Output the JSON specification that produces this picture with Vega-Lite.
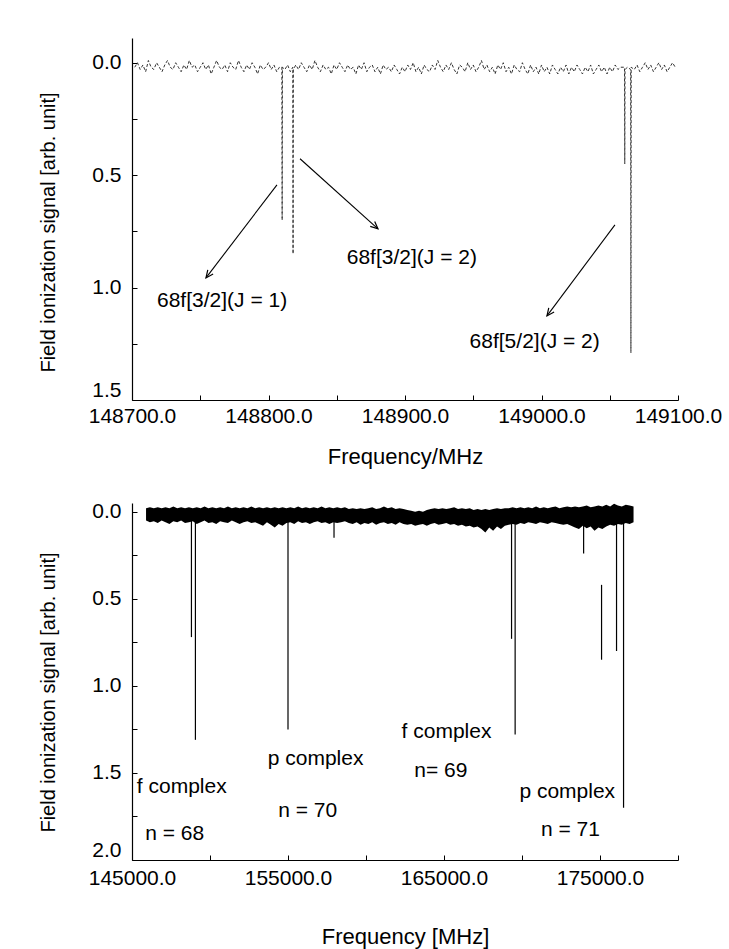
{
  "$schema": "https://vega.github.io/schema/vega-lite/v6.json",
  "background": "white",
  "padding": {"left": 38, "top": 38, "right": 5, "bottom": 5},
  "bounds": "flush",
  "spacing": 103,
  "config": {
    "view": {"stroke": null},
    "font": "Liberation Sans",
    "text": {"font": "Liberation Sans", "fontSize": 21, "color": "black"},
    "axis": {
      "grid": false,
      "domainColor": "black", "domainWidth": 1.2,
      "tickColor": "black", "tickSize": -5, "tickWidth": 1,
      "labelColor": "black", "titleColor": "black",
      "labelFont": "Liberation Sans", "titleFont": "Liberation Sans",
      "labelFontSize": 21, "titleFontSize": 22, "titleFontWeight": "normal",
      "labelOverlap": false, "labelFlush": false
    },
    "axisY": {"labelFlush": true, "titleFontSize": 20}
  },
  "datasets": {
    "top_spectrum": [
      {"f":148702,"s":0.02},{"f":148704,"s":0.00},{"f":148706,"s":0.03},{"f":148708,"s":0.01},{"f":148710,"s":0.04},
      {"f":148712,"s":-0.01},{"f":148714,"s":0.02},{"f":148716,"s":0.03},{"f":148718,"s":0.00},{"f":148720,"s":0.02},
      {"f":148722,"s":0.04},{"f":148724,"s":0.01},{"f":148726,"s":-0.01},{"f":148728,"s":0.02},{"f":148730,"s":0.03},
      {"f":148732,"s":0.00},{"f":148734,"s":0.02},{"f":148736,"s":0.04},{"f":148738,"s":0.01},{"f":148740,"s":0.03},
      {"f":148742,"s":-0.01},{"f":148744,"s":0.02},{"f":148746,"s":0.01},{"f":148748,"s":0.04},{"f":148750,"s":0.02},
      {"f":148752,"s":0.00},{"f":148754,"s":0.03},{"f":148756,"s":0.01},{"f":148758,"s":0.05},{"f":148760,"s":0.02},
      {"f":148762,"s":-0.01},{"f":148764,"s":0.02},{"f":148766,"s":0.03},{"f":148768,"s":0.01},{"f":148770,"s":0.04},
      {"f":148772,"s":0.00},{"f":148774,"s":0.02},{"f":148776,"s":0.03},{"f":148778,"s":-0.01},{"f":148780,"s":0.02},
      {"f":148782,"s":0.04},{"f":148784,"s":0.01},{"f":148786,"s":0.03},{"f":148788,"s":0.00},{"f":148790,"s":0.02},
      {"f":148792,"s":0.05},{"f":148794,"s":0.01},{"f":148796,"s":0.03},{"f":148798,"s":0.02},{"f":148800,"s":0.00},
      {"f":148802,"s":0.03},{"f":148804,"s":0.01},{"f":148806,"s":0.04},{"f":148808,"s":0.02},
      {"f":148809.8,"s":0.02},{"f":148810,"s":0.70},{"f":148810.2,"s":0.02},
      {"f":148812,"s":0.03},{"f":148814,"s":0.01},{"f":148816,"s":0.04},
      {"f":148817.8,"s":0.02},{"f":148818,"s":0.85},{"f":148818.2,"s":0.03},
      {"f":148820,"s":0.01},{"f":148822,"s":0.03},{"f":148824,"s":0.00},{"f":148826,"s":0.02},{"f":148828,"s":0.04},
      {"f":148830,"s":0.01},{"f":148832,"s":0.03},{"f":148834,"s":-0.01},{"f":148836,"s":0.02},{"f":148838,"s":0.04},
      {"f":148840,"s":0.01},{"f":148842,"s":0.03},{"f":148844,"s":0.02},{"f":148846,"s":0.05},{"f":148848,"s":0.01},
      {"f":148850,"s":0.03},{"f":148852,"s":0.00},{"f":148854,"s":0.02},{"f":148856,"s":0.04},{"f":148858,"s":0.01},
      {"f":148860,"s":0.03},{"f":148862,"s":0.02},{"f":148864,"s":0.05},{"f":148866,"s":0.01},{"f":148868,"s":0.03},
      {"f":148870,"s":0.00},{"f":148872,"s":0.04},{"f":148874,"s":0.02},{"f":148876,"s":0.01},{"f":148878,"s":0.04},
      {"f":148880,"s":0.02},{"f":148882,"s":0.05},{"f":148884,"s":0.01},{"f":148886,"s":0.03},{"f":148888,"s":0.02},
      {"f":148890,"s":0.04},{"f":148892,"s":0.01},{"f":148894,"s":0.03},{"f":148896,"s":0.05},{"f":148898,"s":0.02},
      {"f":148900,"s":0.04},{"f":148902,"s":0.01},{"f":148904,"s":0.03},{"f":148906,"s":0.00},{"f":148908,"s":0.04},
      {"f":148910,"s":0.02},{"f":148912,"s":0.05},{"f":148914,"s":0.01},{"f":148916,"s":0.03},{"f":148918,"s":0.04},
      {"f":148920,"s":0.01},{"f":148922,"s":0.03},{"f":148924,"s":-0.01},{"f":148926,"s":0.02},{"f":148928,"s":0.04},
      {"f":148930,"s":0.01},{"f":148932,"s":0.03},{"f":148934,"s":0.00},{"f":148936,"s":0.03},{"f":148938,"s":0.05},
      {"f":148940,"s":0.01},{"f":148942,"s":0.02},{"f":148944,"s":0.04},{"f":148946,"s":0.00},{"f":148948,"s":0.03},
      {"f":148950,"s":0.01},{"f":148952,"s":0.04},{"f":148954,"s":0.02},{"f":148956,"s":-0.01},{"f":148958,"s":0.03},
      {"f":148960,"s":0.01},{"f":148962,"s":0.04},{"f":148964,"s":0.02},{"f":148966,"s":0.05},{"f":148968,"s":0.01},
      {"f":148970,"s":0.03},{"f":148972,"s":0.00},{"f":148974,"s":0.04},{"f":148976,"s":0.02},{"f":148978,"s":0.05},
      {"f":148980,"s":0.01},{"f":148982,"s":0.03},{"f":148984,"s":0.04},{"f":148986,"s":0.00},{"f":148988,"s":0.03},
      {"f":148990,"s":0.05},{"f":148992,"s":0.01},{"f":148994,"s":0.04},{"f":148996,"s":0.02},{"f":148998,"s":0.05},
      {"f":149000,"s":0.01},{"f":149002,"s":0.04},{"f":149004,"s":0.02},{"f":149006,"s":0.05},{"f":149008,"s":0.01},
      {"f":149010,"s":0.03},{"f":149012,"s":0.05},{"f":149014,"s":0.02},{"f":149016,"s":0.04},{"f":149018,"s":0.01},
      {"f":149020,"s":0.05},{"f":149022,"s":0.02},{"f":149024,"s":0.04},{"f":149026,"s":0.01},{"f":149028,"s":0.03},
      {"f":149030,"s":0.05},{"f":149032,"s":0.02},{"f":149034,"s":0.04},{"f":149036,"s":0.01},{"f":149038,"s":0.05},
      {"f":149040,"s":0.03},{"f":149042,"s":0.01},{"f":149044,"s":0.04},{"f":149046,"s":0.02},{"f":149048,"s":0.05},
      {"f":149050,"s":0.02},{"f":149052,"s":0.04},{"f":149054,"s":0.01},{"f":149056,"s":0.03},{"f":149058,"s":0.02},
      {"f":149060.8,"s":0.02},{"f":149061,"s":0.45},{"f":149061.2,"s":0.03},
      {"f":149063,"s":0.02},
      {"f":149065.3,"s":0.03},{"f":149065.5,"s":1.29},{"f":149065.7,"s":0.02},
      {"f":149068,"s":0.03},{"f":149070,"s":0.01},{"f":149072,"s":0.04},{"f":149074,"s":0.02},{"f":149076,"s":0.00},
      {"f":149078,"s":0.03},{"f":149080,"s":0.01},{"f":149082,"s":0.04},{"f":149084,"s":0.02},{"f":149086,"s":0.00},
      {"f":149088,"s":0.03},{"f":149090,"s":0.01},{"f":149092,"s":0.04},{"f":149094,"s":0.02},{"f":149096,"s":0.00},
      {"f":149098,"s":0.02}
    ],
    "top_arrows": [
      {"id":1,"f1":148806.2,"s1":0.543,"f2":148754.2,"s2":0.957},
      {"id":2,"f1":148823.1,"s1":0.427,"f2":148880.2,"s2":0.739},
      {"id":3,"f1":149053.8,"s1":0.721,"f2":149004.0,"s2":1.126}
    ],
    "top_labels": [
      {"f":148766,"s":1.06,"label":"68f[3/2](J = 1)"},
      {"f":148905,"s":0.87,"label":"68f[3/2](J = 2)"},
      {"f":148995,"s":1.24,"label":"68f[5/2](J = 2)"}
    ],
    "bottom_band": [
      {"f":145900,"lo":-0.02,"hi":0.05},{"f":146150,"lo":-0.025,"hi":0.06},{"f":146400,"lo":-0.02,"hi":0.055},{"f":146650,"lo":-0.025,"hi":0.065},
      {"f":146900,"lo":-0.02,"hi":0.05},{"f":147150,"lo":-0.025,"hi":0.06},{"f":147400,"lo":-0.02,"hi":0.07},{"f":147650,"lo":-0.03,"hi":0.055},
      {"f":147900,"lo":-0.02,"hi":0.06},{"f":148150,"lo":-0.025,"hi":0.05},{"f":148400,"lo":-0.02,"hi":0.065},{"f":148650,"lo":-0.025,"hi":0.06},
      {"f":148900,"lo":-0.02,"hi":0.055},{"f":149150,"lo":-0.025,"hi":0.07},{"f":149400,"lo":-0.02,"hi":0.06},{"f":149650,"lo":-0.03,"hi":0.05},
      {"f":149900,"lo":-0.02,"hi":0.065},{"f":150150,"lo":-0.025,"hi":0.06},{"f":150400,"lo":-0.02,"hi":0.07},{"f":150650,"lo":-0.025,"hi":0.055},
      {"f":150900,"lo":-0.02,"hi":0.06},{"f":151150,"lo":-0.03,"hi":0.065},{"f":151400,"lo":-0.02,"hi":0.05},{"f":151650,"lo":-0.025,"hi":0.06},
      {"f":151900,"lo":-0.02,"hi":0.07},{"f":152150,"lo":-0.025,"hi":0.06},{"f":152400,"lo":-0.02,"hi":0.055},{"f":152650,"lo":-0.03,"hi":0.065},
      {"f":152900,"lo":-0.02,"hi":0.06},{"f":153150,"lo":-0.025,"hi":0.07},{"f":153400,"lo":-0.02,"hi":0.08},{"f":153650,"lo":-0.025,"hi":0.06},
      {"f":153900,"lo":-0.02,"hi":0.075},{"f":154150,"lo":-0.025,"hi":0.09},{"f":154400,"lo":-0.02,"hi":0.07},{"f":154650,"lo":-0.025,"hi":0.08},
      {"f":154900,"lo":-0.02,"hi":0.065},{"f":155150,"lo":-0.025,"hi":0.06},{"f":155400,"lo":-0.02,"hi":0.07},{"f":155650,"lo":-0.03,"hi":0.055},
      {"f":155900,"lo":-0.02,"hi":0.065},{"f":156150,"lo":-0.025,"hi":0.06},{"f":156400,"lo":-0.02,"hi":0.07},{"f":156650,"lo":-0.025,"hi":0.06},
      {"f":156900,"lo":-0.02,"hi":0.055},{"f":157150,"lo":-0.03,"hi":0.065},{"f":157400,"lo":-0.02,"hi":0.06},{"f":157650,"lo":-0.025,"hi":0.07},
      {"f":157900,"lo":-0.02,"hi":0.06},{"f":158150,"lo":-0.025,"hi":0.065},{"f":158400,"lo":-0.02,"hi":0.06},{"f":158650,"lo":-0.025,"hi":0.055},
      {"f":158900,"lo":-0.015,"hi":0.065},{"f":159150,"lo":-0.02,"hi":0.07},{"f":159400,"lo":-0.015,"hi":0.06},{"f":159650,"lo":-0.02,"hi":0.075},
      {"f":159900,"lo":-0.015,"hi":0.065},{"f":160150,"lo":-0.02,"hi":0.07},{"f":160400,"lo":-0.025,"hi":0.06},{"f":160650,"lo":-0.015,"hi":0.075},
      {"f":160900,"lo":-0.02,"hi":0.065},{"f":161150,"lo":-0.03,"hi":0.06},{"f":161400,"lo":-0.02,"hi":0.07},{"f":161650,"lo":-0.025,"hi":0.065},
      {"f":161900,"lo":-0.015,"hi":0.075},{"f":162150,"lo":-0.02,"hi":0.06},{"f":162400,"lo":-0.015,"hi":0.07},{"f":162650,"lo":-0.01,"hi":0.075},
      {"f":162900,"lo":-0.005,"hi":0.07},{"f":163150,"lo":0.0,"hi":0.08},{"f":163400,"lo":-0.005,"hi":0.075},{"f":163650,"lo":0.0,"hi":0.07},
      {"f":163900,"lo":-0.01,"hi":0.08},{"f":164150,"lo":-0.015,"hi":0.07},{"f":164400,"lo":-0.02,"hi":0.065},{"f":164650,"lo":-0.015,"hi":0.075},
      {"f":164900,"lo":-0.02,"hi":0.07},{"f":165150,"lo":-0.015,"hi":0.065},{"f":165400,"lo":-0.02,"hi":0.075},{"f":165650,"lo":-0.025,"hi":0.07},
      {"f":165900,"lo":-0.015,"hi":0.08},{"f":166150,"lo":-0.02,"hi":0.075},{"f":166400,"lo":-0.015,"hi":0.085},{"f":166650,"lo":-0.02,"hi":0.08},
      {"f":166900,"lo":-0.01,"hi":0.09},{"f":167150,"lo":-0.015,"hi":0.085},{"f":167400,"lo":-0.01,"hi":0.1},{"f":167650,"lo":-0.015,"hi":0.12},
      {"f":167900,"lo":-0.01,"hi":0.09},{"f":168150,"lo":-0.015,"hi":0.11},{"f":168400,"lo":-0.02,"hi":0.085},{"f":168650,"lo":-0.015,"hi":0.1},
      {"f":168900,"lo":-0.02,"hi":0.08},{"f":169150,"lo":-0.02,"hi":0.075},{"f":169400,"lo":-0.025,"hi":0.07},{"f":169650,"lo":-0.02,"hi":0.075},
      {"f":169900,"lo":-0.025,"hi":0.065},{"f":170150,"lo":-0.02,"hi":0.07},{"f":170400,"lo":-0.025,"hi":0.06},{"f":170650,"lo":-0.02,"hi":0.065},
      {"f":170900,"lo":-0.03,"hi":0.07},{"f":171150,"lo":-0.02,"hi":0.06},{"f":171400,"lo":-0.025,"hi":0.065},{"f":171650,"lo":-0.02,"hi":0.07},
      {"f":171900,"lo":-0.025,"hi":0.06},{"f":172150,"lo":-0.03,"hi":0.065},{"f":172400,"lo":-0.02,"hi":0.07},{"f":172650,"lo":-0.025,"hi":0.075},
      {"f":172900,"lo":-0.03,"hi":0.07},{"f":173150,"lo":-0.025,"hi":0.08},{"f":173400,"lo":-0.03,"hi":0.09},{"f":173650,"lo":-0.025,"hi":0.1},
      {"f":173900,"lo":-0.03,"hi":0.08},{"f":174150,"lo":-0.035,"hi":0.095},{"f":174400,"lo":-0.025,"hi":0.085},{"f":174650,"lo":-0.03,"hi":0.11},
      {"f":174900,"lo":-0.035,"hi":0.09},{"f":175150,"lo":-0.03,"hi":0.1},{"f":175400,"lo":-0.04,"hi":0.085},{"f":175650,"lo":-0.03,"hi":0.075},
      {"f":175900,"lo":-0.045,"hi":0.08},{"f":176150,"lo":-0.035,"hi":0.07},{"f":176400,"lo":-0.03,"hi":0.075},{"f":176650,"lo":-0.04,"hi":0.065},
      {"f":176900,"lo":-0.035,"hi":0.07},{"f":177150,"lo":-0.03,"hi":0.06}
    ],
    "bottom_peaks": [
      {"f":148810,"top":0.03,"depth":0.72},
      {"f":149065,"top":0.03,"depth":1.31},
      {"f":155000,"top":0.03,"depth":1.25},
      {"f":157950,"top":0.03,"depth":0.15},
      {"f":169330,"top":0.03,"depth":0.73},
      {"f":169560,"top":0.03,"depth":1.28},
      {"f":173950,"top":0.03,"depth":0.24},
      {"f":175100,"top":0.42,"depth":0.85},
      {"f":176060,"top":0.03,"depth":0.80},
      {"f":176510,"top":0.03,"depth":1.70}
    ],
    "bottom_labels": [
      {"f":148190,"s":1.58,"label":"f complex"},
      {"f":147740,"s":1.85,"label":"n = 68"},
      {"f":156770,"s":1.42,"label":"p complex"},
      {"f":156260,"s":1.72,"label":"n = 70"},
      {"f":165160,"s":1.265,"label":"f complex"},
      {"f":164800,"s":1.49,"label":"n= 69"},
      {"f":172900,"s":1.61,"label":"p complex"},
      {"f":173100,"s":1.83,"label":"n = 71"}
    ]
  },
  "vconcat": [
    {
      "width": 546,
      "height": 362,
      "layer": [
        {
          "data": {"name": "top_spectrum"},
          "mark": {"type": "line", "color": "#333", "strokeWidth": 1, "strokeDash": [3, 2]},
          "encoding": {
            "x": {
              "field": "f", "type": "quantitative",
              "scale": {"domain": [148700, 149100], "nice": false, "zero": false},
              "axis": {
                "title": "Frequency/MHz",
                "values": [148700, 148750, 148800, 148850, 148900, 148950, 149000, 149050, 149100],
                "labelExpr": "datum.value % 100 == 0 ? format(datum.value, '.1f') : ''",
                "labelPadding": 10, "titlePadding": 20
              }
            },
            "y": {
              "field": "s", "type": "quantitative",
              "scale": {"domain": [-0.11, 1.5], "reverse": true, "nice": false, "zero": false},
              "axis": {
                "title": "Field ionization signal [arb. unit]",
                "values": [0, 0.25, 0.5, 0.75, 1, 1.25, 1.5],
                "labelExpr": "datum.value % 0.5 == 0 ? format(datum.value, '.1f') : ''",
                "labelPadding": 16, "titlePadding": 33, "titleY": 194
              }
            }
          }
        },
        {
          "data": {"name": "top_arrows"},
          "mark": {"type": "rule", "color": "black", "strokeWidth": 1.1},
          "encoding": {
            "x": {"field": "f1", "type": "quantitative"},
            "y": {"field": "s1", "type": "quantitative"},
            "x2": {"field": "f2"},
            "y2": {"field": "s2"}
          }
        },
        {
          "data": {"name": "top_arrows"},
          "transform": [{"filter": "datum.id == 1"}],
          "mark": {"type": "point", "shape": "M-0.45,1L0,0L0.45,1", "filled": false, "size": 220, "strokeWidth": 1.2, "color": "black", "opacity": 1, "angle": 217},
          "encoding": {
            "x": {"field": "f2", "type": "quantitative"},
            "y": {"field": "s2", "type": "quantitative"}
          }
        },
        {
          "data": {"name": "top_arrows"},
          "transform": [{"filter": "datum.id == 2"}],
          "mark": {"type": "point", "shape": "M-0.45,1L0,0L0.45,1", "filled": false, "size": 220, "strokeWidth": 1.2, "color": "black", "opacity": 1, "angle": 132},
          "encoding": {
            "x": {"field": "f2", "type": "quantitative"},
            "y": {"field": "s2", "type": "quantitative"}
          }
        },
        {
          "data": {"name": "top_arrows"},
          "transform": [{"filter": "datum.id == 3"}],
          "mark": {"type": "point", "shape": "M-0.45,1L0,0L0.45,1", "filled": false, "size": 220, "strokeWidth": 1.2, "color": "black", "opacity": 1, "angle": 217},
          "encoding": {
            "x": {"field": "f2", "type": "quantitative"},
            "y": {"field": "s2", "type": "quantitative"}
          }
        },
        {
          "data": {"name": "top_labels"},
          "mark": {"type": "text", "fontSize": 21, "align": "center", "baseline": "middle"},
          "encoding": {
            "x": {"field": "f", "type": "quantitative"},
            "y": {"field": "s", "type": "quantitative"},
            "text": {"field": "label"}
          }
        }
      ]
    },
    {
      "width": 546,
      "height": 357,
      "layer": [
        {
          "data": {"name": "bottom_band"},
          "mark": {"type": "area", "color": "black", "opacity": 1},
          "encoding": {
            "x": {
              "field": "f", "type": "quantitative",
              "scale": {"domain": [145000, 180000], "nice": false, "zero": false},
              "axis": {
                "title": "Frequency [MHz]",
                "values": [145000, 150000, 155000, 160000, 165000, 170000, 175000, 180000],
                "labelExpr": "(datum.value - 145000) % 10000 == 0 ? format(datum.value, '.1f') : ''",
                "labelPadding": 12, "titlePadding": 38
              }
            },
            "y": {
              "field": "lo", "type": "quantitative",
              "scale": {"domain": [-0.05, 2.0], "reverse": true, "nice": false, "zero": false},
              "axis": {
                "title": "Field ionization signal [arb. unit]",
                "values": [0, 0.25, 0.5, 0.75, 1, 1.25, 1.5, 1.75, 2],
                "labelExpr": "datum.value % 0.5 == 0 ? format(datum.value, '.1f') : ''",
                "labelPadding": 16, "titlePadding": 33, "titleY": 189
              }
            },
            "y2": {"field": "hi"}
          }
        },
        {
          "data": {"name": "bottom_peaks"},
          "mark": {"type": "rule", "color": "black", "strokeWidth": 1.2},
          "encoding": {
            "x": {"field": "f", "type": "quantitative"},
            "y": {"field": "top", "type": "quantitative"},
            "y2": {"field": "depth"}
          }
        },
        {
          "data": {"name": "bottom_labels"},
          "mark": {"type": "text", "fontSize": 21, "align": "center", "baseline": "middle"},
          "encoding": {
            "x": {"field": "f", "type": "quantitative"},
            "y": {"field": "s", "type": "quantitative"},
            "text": {"field": "label"}
          }
        }
      ]
    }
  ]
}
